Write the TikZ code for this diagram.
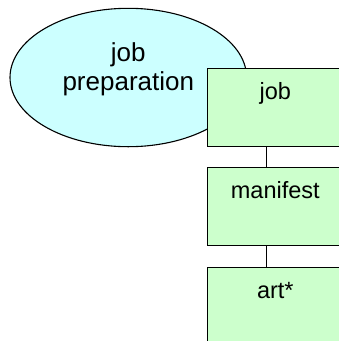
\documentclass[tikz,border=0pt]{standalone}
\usepackage{fontspec}
\setmainfont{Liberation Sans}
\usetikzlibrary{positioning,shapes.geometric}
\tikzset{
stagebox/.style={draw={rgb, 255:red, 0; green, 0; blue, 0 }, fill={rgb, 255:red, 204; green, 255; blue, 204 }, line width=1.1bp, minimum width=136bp, minimum height=78bp, inner sep=0pt, text height=30.8bp, text depth=47.2bp, font=\fontsize{23.5bp}{28bp}\selectfont},
prepoval/.style={ellipse, draw={rgb, 255:red, 0; green, 0; blue, 0 }, fill={rgb, 255:red, 204; green, 255; blue, 255 }, line width=1.1bp, minimum width=236.6bp, minimum height=138.4bp, inner sep=0pt, align=center, text height=60bp, text depth=35bp, font=\fontsize{26bp}{29bp}\selectfont},
joinline/.style={draw={rgb, 255:red, 0; green, 0; blue, 0 }, line width=1.1bp}
}
\begin{document}
\begin{tikzpicture}[x=1bp,y=1bp,yscale=-1,xscale=1,node distance=20.5bp]
\useasboundingbox (0,0) rectangle (339,341);

% Ellipse
\node [prepoval] (prep) at (128.3,77.5) {job\\preparation};

% Boxes
\node [stagebox] (job) at (275.3,107.3) {job};
\node [stagebox, below=of job] (manifest) {manifest};
\node [stagebox, below=of manifest] (art) {art*};

% Straight Lines
\draw [joinline] ([xshift=-8.6bp]job.south) -- ([xshift=-8.6bp]manifest.north);
\draw [joinline] ([xshift=-8.6bp]manifest.south) -- ([xshift=-8.6bp]art.north);

\end{tikzpicture}
\end{document}
